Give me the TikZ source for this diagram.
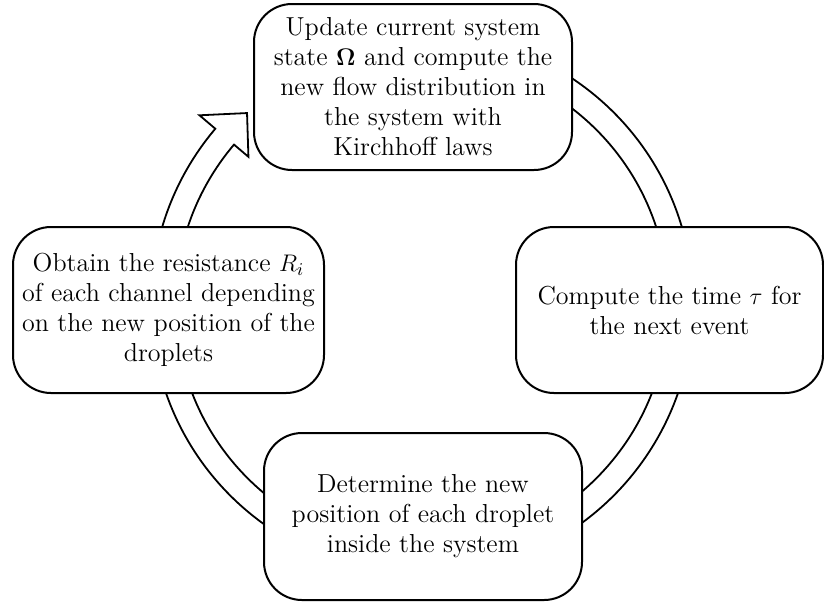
\documentclass[tikz,border=0pt]{standalone}
\usepackage{amsmath}
\begin{document}
\begin{tikzpicture}[x=0.5pt,y=0.5pt,
  stepbox/.style={draw=black, fill=white, line width=1pt, rounded corners=19pt,
    inner sep=0pt, align=center, font=\fontsize{13}{15}\selectfont},
  ringline/.style={draw=black, fill=white, line width=0.9pt, line join=miter}]
\useasboundingbox (0,0) rectangle (824,-601);
\coordinate (ringc) at (422,-304);
% circular arrow
\begin{scope}[shift={(ringc)}]
\draw[ringline] (100:271) arc[start angle=100, end angle=-220.3, radius=135.5pt]
  -- (139.7:291.8) -- (132.5:259) -- (139.7:227.6) -- (139.7:246.5)
  arc[start angle=-220.3, end angle=100, radius=123.25pt] -- cycle;
\end{scope}
% boxes
\node[stepbox, minimum width=159pt, minimum height=83pt] (update) at (413,-87)
  {Update current system\\ state $\mathbf{\Omega}$ and compute the\\ new flow distribution in\\ the system with\\ Kirchhoff laws};
\node[stepbox, minimum width=153.5pt, minimum height=83pt] (time) at (669.5,-310)
  {Compute the time $\tau$ for\\ the next event};
\node[stepbox, minimum width=159pt, minimum height=83.5pt] (position) at (423,-516.5)
  {Determine the new\\ position of each droplet\\ inside the system};
\node[stepbox, minimum width=155.5pt, minimum height=83pt] (resist) at (168.5,-310)
  {Obtain the resistance $R_i$\\ of each channel depending\\ on the new position of the\\ droplets};
\end{tikzpicture}
\end{document}
